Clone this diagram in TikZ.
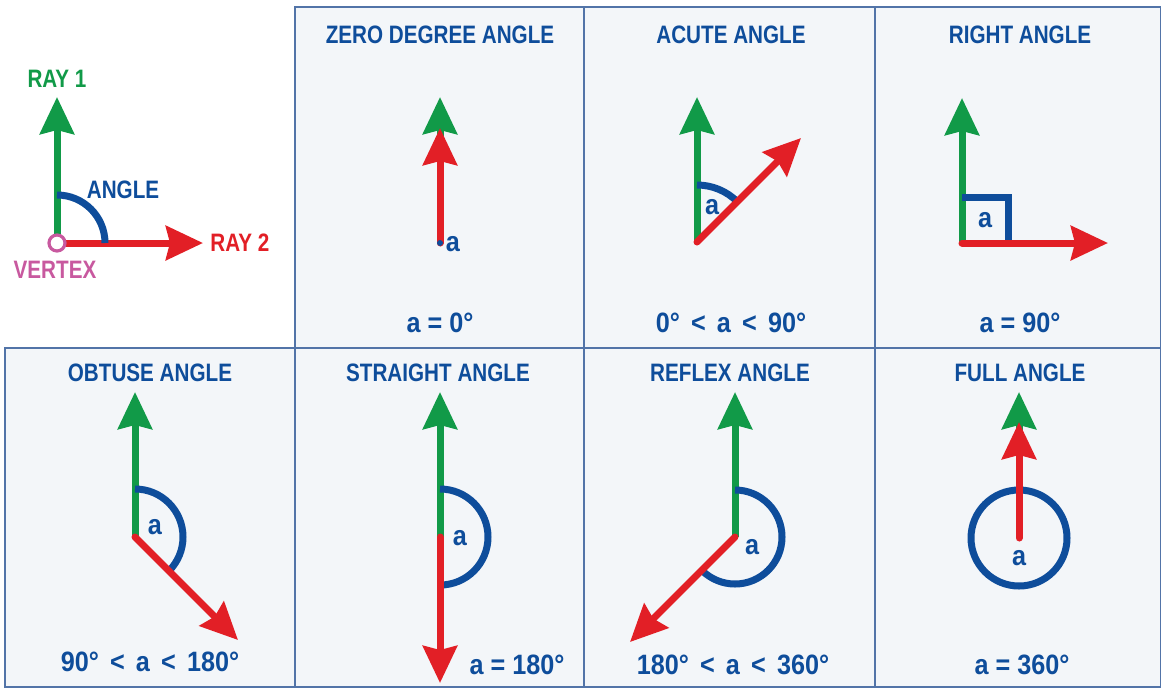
\documentclass[tikz,border=0pt]{standalone}
\usepackage{fontspec}
\setmainfont{Liberation Sans}[FakeStretch=0.82]
\newfontfamily\valfont{Liberation Sans}[FakeStretch=0.9]
\usetikzlibrary{arrows.meta,positioning}
\definecolor{raygreen}{HTML}{119A48}
\definecolor{rayred}{HTML}{E21F26}
\definecolor{angblue}{HTML}{0E4D9B}
\definecolor{vtxpink}{HTML}{C8599F}
\definecolor{cellbg}{HTML}{F3F6F9}
\definecolor{cellline}{HTML}{5274A8}
\newcommand{\lsep}{\hspace{0.4em}}

\begin{document}
\begin{tikzpicture}[x=0.5pt,y=-0.5pt,
  cell/.style={draw=cellline,fill=cellbg,line width=0.8pt},
  hdr/.style={inner sep=0pt,text=angblue,font=\fontsize{12.6}{14}\selectfont\bfseries},
  val/.style={inner sep=0pt,text=angblue,font=\valfont\fontsize{14}{16}\selectfont\bfseries},
  ray1/.style={raygreen,line width=3.5pt,-{Stealth[length=18.5pt,width=17pt,inset=2pt]}},
  ray2/.style={rayred,line width=3.5pt,line cap=round,-{Stealth[length=18.5pt,width=17pt,inset=2pt]}},
  angarc/.style={draw=angblue,line width=3.5pt}]
\fill[white] (0,0) rectangle (1161,687);
\useasboundingbox (0,0) rectangle (1161,687);
% cells
\draw[cell] (295,7) rectangle (584,348);
\draw[cell] (584,7) rectangle (875,348);
\draw[cell] (875,7) rectangle (1161,348);
\draw[cell] (5,348) rectangle (295,687);
\draw[cell] (295,348) rectangle (584,687);
\draw[cell] (584,348) rectangle (875,687);
\draw[cell] (875,348) rectangle (1161,687);

% legend
\coordinate (v0) at (57,243);
\coordinate (g0) at (57,97);
\coordinate (r0) at (203,243);
\draw[ray1] (v0) -- (g0);
\draw[ray2] (v0) -- (r0);
\draw[angarc] (v0) ++(0:48) arc[start angle=0,end angle=-90,radius=48];
\node[circle,draw=vtxpink,fill=white,line width=1.6pt,inner sep=0pt,minimum size=8pt] (vtx) at (v0) {};
\node[hdr,text=raygreen,above=4.5pt of g0] (ray1lbl) {RAY 1};
\node[hdr,text=rayred,right=3.5pt of r0] (ray2lbl) {RAY 2};
\node[hdr] (anglbl) at (123,190) {ANGLE};
\node[hdr,text=vtxpink] (vtxlbl) at (55,270) {VERTEX};

% zero degree angle
\node[hdr] (t1) at (440,35) {ZERO DEGREE ANGLE};
\coordinate (v1) at (440,243);
\coordinate (g1) at (440,97);
\coordinate (r1) at (440,128);
\draw[ray1] (v1) -- (g1);
\draw[ray2] (v1) -- (r1);
\fill[angblue] (v1) circle[radius=3];
\node[val] (a1) at (453,244) {a};
\node[val] (f1) at (440,323) {a = 0°};

% acute angle
\node[hdr] (t2) at (731,35) {ACUTE ANGLE};
\coordinate (v2) at (697,242);
\coordinate (g2) at (697,97);
\coordinate (r2) at (801,138);
\draw[ray1] (v2) -- (g2);
\draw[angarc] (v2) ++(-90:57) arc[start angle=-90,end angle=-45,radius=57];
\draw[ray2] (v2) -- (r2);
\node[val] (a2) at (712,207) {a};
\node[val] (f2) at (731,323) {0°\lsep<\lsep a\lsep<\lsep 90°};

% right angle
\node[hdr] (t3) at (1020,35) {RIGHT ANGLE};
\coordinate (v3) at (962,243);
\coordinate (g3) at (962,98);
\coordinate (r3) at (1108,243);
\draw[ray1] (v3) -- (g3);
\draw[angarc] (v3) ++(0,-46) -| ++(46,46);
\draw[ray2] (v3) -- (r3);
\node[val] (a3) at (985,220) {a};
\node[val] (f3) at (1020,323) {a = 90°};

% obtuse angle
\node[hdr] (t4) at (150,373) {OBTUSE ANGLE};
\coordinate (v4) at (135,537);
\coordinate (g4) at (135,392);
\coordinate (r4) at (238,640);
\draw[ray1] (v4) -- (g4);
\draw[angarc] (v4) ++(-90:48) arc[start angle=-90,end angle=45,radius=48];
\draw[ray2] (v4) -- (r4);
\node[val] (a4) at (155,527) {a};
\node[val] (f4) at (150,662) {90°\lsep<\lsep a\lsep<\lsep 180°};

% straight angle
\node[hdr] (t5) at (438,373) {STRAIGHT ANGLE};
\coordinate (v5) at (440,537);
\coordinate (g5) at (440,392);
\coordinate (r5) at (440,683);
\draw[ray1] (v5) -- (g5);
\draw[angarc] (v5) ++(-90:48) arc[start angle=-90,end angle=90,radius=48];
\draw[ray2] (v5) -- (r5);
\node[val] (a5) at (460,538) {a};
\node[val] (f5) at (517,665) {a = 180°};

% reflex angle
\node[hdr] (t6) at (730,373) {REFLEX ANGLE};
\coordinate (v6) at (735,537);
\coordinate (g6) at (735,392);
\coordinate (r6) at (630,642);
\draw[ray1] (v6) -- (g6);
\draw[angarc] (v6) ++(-90:47) arc[start angle=-90,end angle=135,radius=47];
\draw[ray2] (v6) -- (r6);
\node[val] (a6) at (752,547) {a};
\node[val] (f6) at (733,665) {180°\lsep<\lsep a\lsep<\lsep 360°};

% full angle
\node[hdr] (t7) at (1020,373) {FULL ANGLE};
\coordinate (v7) at (1019,538);
\coordinate (g7) at (1019,392);
\coordinate (r7) at (1019,422);
\draw[ray1] (v7) -- (g7);
\draw[angarc] (v7) circle[radius=48];
\draw[ray2] (v7) -- (r7);
\node[val] (a7) at (1019,558) {a};
\node[val] (f7) at (1022,665) {a = 360°};
\end{tikzpicture}
\end{document}
